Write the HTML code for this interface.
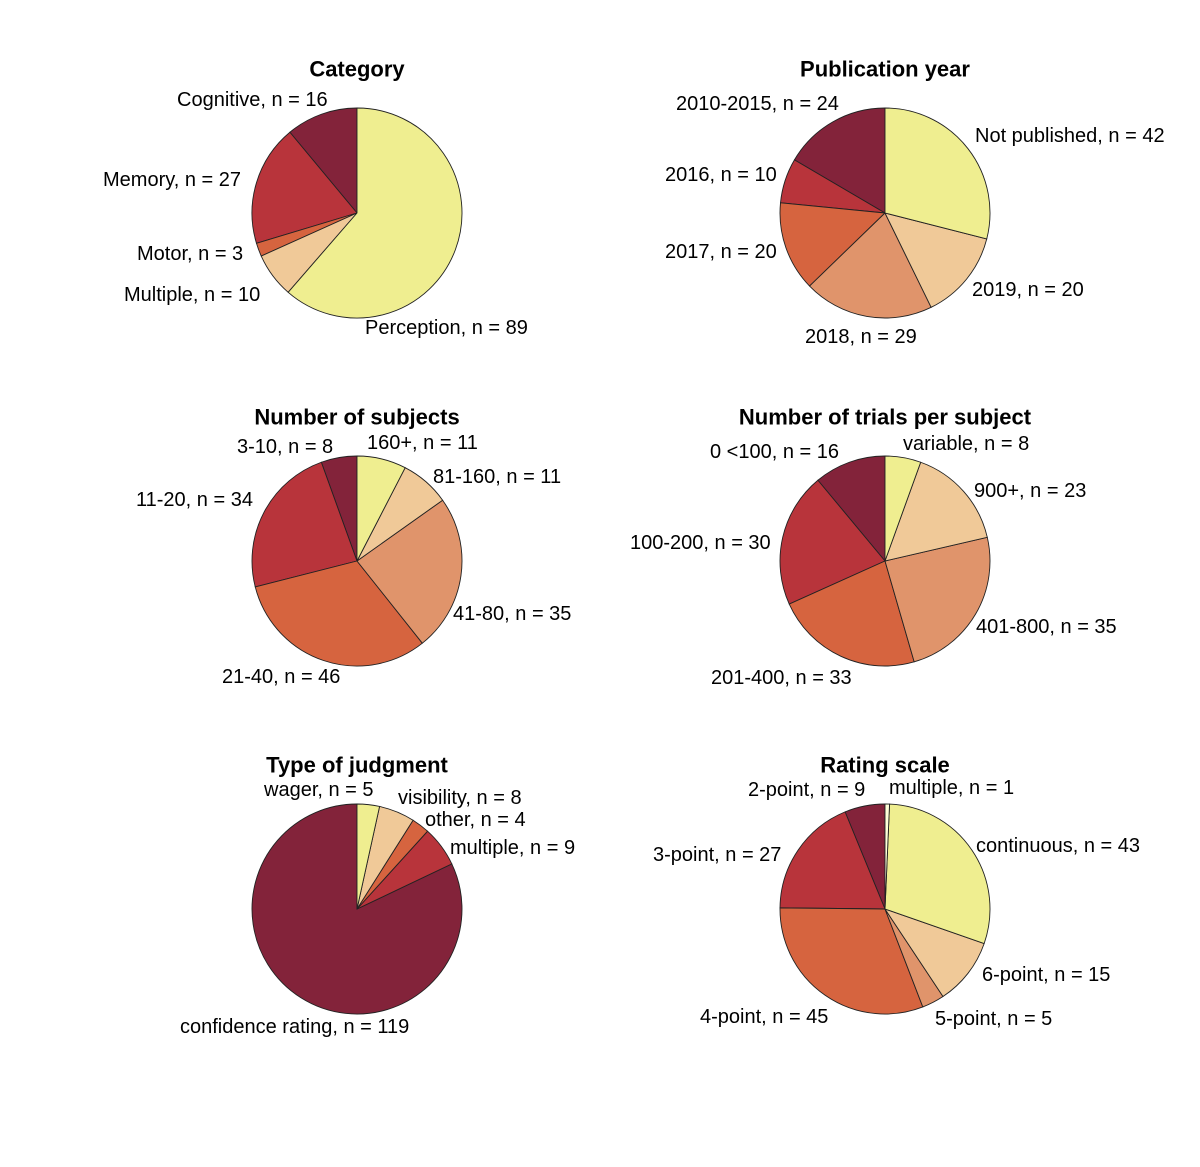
<!DOCTYPE html>
<html><head><meta charset="utf-8"><style>
html,body{margin:0;padding:0;background:#fff;}
svg text{font-family:"Liberation Sans",Arial,sans-serif;}
</style></head><body>
<svg id="c" width="1200" height="1162" viewBox="0 0 1200 1162" xmlns="http://www.w3.org/2000/svg"></svg>
<script>
const titles = ["Category","Publication year","Number of subjects","Number of trials per subject","Type of judgment","Rating scale"];
const cats1 = ["Cognitive","Memory","Motor","Multiple","Perception"];
const vals1 = [16,27,3,10,89];
const cats2 = ["2010-2015","2016","2017","2018","2019","Not published"];
const vals2 = [24,10,20,29,20,42];
const cats3 = ["3-10","11-20","21-40","41-80","81-160","160+"];
const vals3 = [8,34,46,35,11,11];
const cats4 = ["0 <100","100-200","201-400","401-800","900+","variable"];
const vals4 = [16,30,33,35,23,8];
const cats5 = ["confidence rating","multiple","other","visibility","wager"];
const vals5 = [119,9,4,8,5];
const cats6 = ["2-point","3-point","4-point","5-point","6-point","continuous","multiple"];
const vals6 = [9,27,45,5,15,43,1];

// layout (not data)
const M="#83233A",R="#B8343B",O="#D6643F",S="#E0946B",P="#F0C998",Y="#EFEE90",W="#FFFFD8";
const colors=[[M,R,O,P,Y],[M,R,O,S,P,Y],[M,R,O,S,P,Y],[M,R,O,S,P,Y],[M,R,O,P,Y],[M,R,O,S,P,Y,W]];
const centers=[[357,213],[885,213],[357,561],[885,561],[357,909],[885,909]];
const labelPos=[
 [[177,100],[103,180],[137,254],[124,295],[365,328]],
 [[676,104],[665,175],[665,252],[805,337],[972,290],[975,136]],
 [[237,447],[136,500],[222,677],[453,614],[433,477],[367,443]],
 [[710,452],[630,543],[711,678],[976,627],[974,491],[903,444]],
 [[180,1027],[450,848],[425,820],[398,798],[264,790]],
 [[748,790],[653,855],[700,1017],[935,1019],[982,975],[976,846],[889,788]]
];
const allCats=[cats1,cats2,cats3,cats4,cats5,cats6];
const allVals=[vals1,vals2,vals3,vals4,vals5,vals6];
const r=105;
const svg=document.getElementById('c');
const NS="http://www.w3.org/2000/svg";
function pt(cx,cy,a){return [cx-r*Math.sin(a),cy-r*Math.cos(a)];}
allVals.forEach((vals,i)=>{
  const g=document.createElementNS(NS,'g');
  
  
  svg.appendChild(g);
  const [cx,cy]=centers[i];
  const t=document.createElementNS(NS,'text');
  
  
  t.setAttribute('x',cx);t.setAttribute('y',cy-144);
  t.setAttribute('text-anchor','middle');t.setAttribute('dominant-baseline','central');
  t.setAttribute('font-size','22');t.setAttribute('font-weight','bold');
  t.textContent=titles[i];g.appendChild(t);
  const total=vals.reduce((a,b)=>a+b,0);
  let cum=0;
  vals.forEach((v,j)=>{
    const a0=cum/total*2*Math.PI; cum+=v; const a1=cum/total*2*Math.PI;
    const p0=pt(cx,cy,a0),p1=pt(cx,cy,a1);
    const large=(a1-a0)>Math.PI?1:0;
    const p=document.createElementNS(NS,'path');
    
    
    p.setAttribute('d',`M${cx},${cy} L${p0[0]},${p0[1]} A${r},${r} 0 ${large} 0 ${p1[0]},${p1[1]} Z`);
    p.setAttribute('fill',colors[i][j]);p.setAttribute('stroke','#222');p.setAttribute('stroke-width','0.9');
    g.appendChild(p);
    const l=document.createElementNS(NS,'text');
    
    
    l.setAttribute('x',labelPos[i][j][0]);l.setAttribute('y',labelPos[i][j][1]);
    l.setAttribute('dominant-baseline','central');l.setAttribute('font-size','20');
    l.textContent=allCats[i][j]+', n = '+v;
    g.appendChild(l);
  });
});
</script>
</body></html>
